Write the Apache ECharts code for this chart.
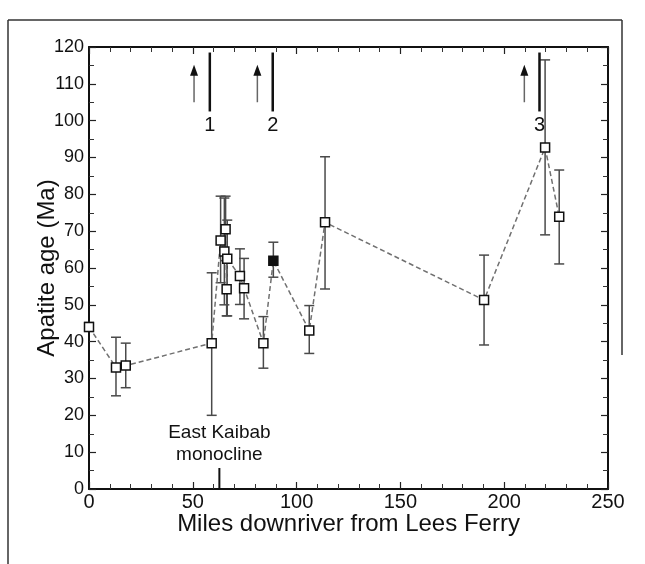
<!DOCTYPE html>
<html>
<head>
<meta charset="utf-8">
<script src="https://cdn.jsdelivr.net/npm/echarts@6/dist/echarts.min.js"></script>
<style>html,body{margin:0;padding:0;background:#fff;}#main{width:645px;height:564px;}</style>
</head>
<body>
<div id="main"></div>
<script>
// ---- data ----
var miles   = [0, 13.0, 17.7, 59.1, 63.4, 65.2, 65.8, 66.3, 66.6, 72.7, 74.7, 84.0, 88.8, 106.1, 113.7, 190.3, 219.7, 226.5];
var ages    = [44.0, 33.0, 33.5, 39.6, 67.5, 64.5, 70.5, 54.2, 62.5, 57.8, 54.5, 39.6, 62.0, 43.0, 72.4, 51.3, 92.7, 73.9];
var errLow  = [42.8, 25.3, 27.5, 20.0, 56.0, 50.0, 62.0, 47.0, 47.0, 50.1, 46.2, 32.8, 57.5, 36.8, 54.3, 39.1, 69.0, 61.1];
var errHigh = [45.2, 41.2, 39.6, 58.7, 79.5, 79.0, 79.5, 62.0, 73.0, 65.2, 62.6, 46.8, 67.0, 49.8, 90.2, 63.5, 116.5, 86.6];
var filledIndex = [12];

var markerMiles  = [58.2, 88.5, 217.0];
var markerLabels = ['1', '2', '3'];
var markerSpan   = [102.5, 118.5];
var arrowMiles   = [50.6, 81.1, 209.7];
var arrowSpan    = [105.0, 115.2];
var markerLabelAge = 98.8;

var ekMile = 62.8;
var ekSpan = [0, 5.7];
var ekText = ['East Kaibab', 'monocline'];
var ekTextAges = [15.2, 9.2];

var xTicks = [0, 250, 50];
var yTicks = [0, 120, 10];

// ---- build ----
var pts = miles.map(function (m, i) { return [m, ages[i]]; });
var errData = miles.map(function (m, i) { return [m, errLow[i], errHigh[i]]; });
var scatterData = miles.map(function (m, i) {
  var filled = filledIndex.indexOf(i) >= 0;
  return { value: [m, ages[i]], itemStyle: { color: filled ? '#111' : '#fff' } };
});
var annData = markerMiles.map(function (m, i) { return [m, arrowMiles[i], i]; });

var chart = echarts.init(document.getElementById('main'));
var font = 'Liberation Sans, Arial, Helvetica, sans-serif';

function axisBase() {
  return {
    type: 'value',
    axisLine: { show: true, onZero: false, lineStyle: { color: '#111', width: 2 } },
    splitLine: { show: false },
    axisTick: { show: true, inside: true, length: 7, lineStyle: { color: '#222', width: 1.2 } }
  };
}

chart.setOption({
  animation: false,
  grid: { left: 89, right: 37, top: 47, bottom: 75, containLabel: false },
  xAxis: [
    Object.assign(axisBase(), {
      min: xTicks[0], max: xTicks[1], interval: xTicks[2], position: 'bottom',
      minorTick: { show: true, splitNumber: 5, length: 5, lineStyle: { color: '#333', width: 1 } },
      axisLabel: { color: '#111', fontSize: 20, fontFamily: font, margin: 3 },
      name: 'Miles downriver from Lees Ferry', nameLocation: 'middle', nameGap: 23,
      nameMoveOverlap: false,
      nameTextStyle: { color: '#111', fontSize: 24, fontFamily: font }
    }),
    Object.assign(axisBase(), {
      min: xTicks[0], max: xTicks[1], interval: xTicks[2], position: 'top',
      minorTick: { show: true, splitNumber: 5, length: 5, lineStyle: { color: '#333', width: 1 } },
      axisLabel: { show: false }
    })
  ],
  yAxis: [
    Object.assign(axisBase(), {
      min: yTicks[0], max: yTicks[1], interval: yTicks[2], position: 'left',
      minorTick: { show: true, splitNumber: 2, length: 5, lineStyle: { color: '#333', width: 1 } },
      axisLabel: { color: '#111', fontSize: 18, fontFamily: font, margin: 5 },
      name: 'Apatite age (Ma)', nameLocation: 'middle', nameGap: 30, nameRotate: 90,
      nameMoveOverlap: false,
      nameTextStyle: { color: '#111', fontSize: 24, fontFamily: font }
    }),
    Object.assign(axisBase(), {
      min: yTicks[0], max: yTicks[1], interval: yTicks[2], position: 'right',
      minorTick: { show: true, splitNumber: 2, length: 5, lineStyle: { color: '#333', width: 1 } },
      axisLabel: { show: false }
    })
  ],
  graphic: [
    { type: 'line', shape: { x1: 8, y1: 20, x2: 622, y2: 20 }, style: { stroke: '#333', lineWidth: 1.5 }, silent: true },
    { type: 'line', shape: { x1: 8, y1: 20, x2: 8, y2: 564 }, style: { stroke: '#333', lineWidth: 1.5 }, silent: true },
    { type: 'line', shape: { x1: 622, y1: 20, x2: 622, y2: 355 }, style: { stroke: '#333', lineWidth: 1.5 }, silent: true }
  ],
  series: [
    {
      type: 'custom', name: 'err', data: errData, z: 2,
      renderItem: function (params, api) {
        var x = api.value(0), lo = api.value(1), hi = api.value(2);
        var pLo = api.coord([x, lo]), pHi = api.coord([x, hi]);
        var c = 5;
        var st = { stroke: '#4a4a4a', lineWidth: 1.5 };
        return { type: 'group', children: [
          { type: 'line', shape: { x1: pLo[0], y1: pLo[1], x2: pHi[0], y2: pHi[1] }, style: st },
          { type: 'line', shape: { x1: pLo[0] - c, y1: pLo[1], x2: pLo[0] + c, y2: pLo[1] }, style: st },
          { type: 'line', shape: { x1: pHi[0] - c, y1: pHi[1], x2: pHi[0] + c, y2: pHi[1] }, style: st }
        ]};
      }
    },
    {
      type: 'line', data: pts, symbol: 'none', z: 3,
      lineStyle: { color: '#707070', width: 1.5, type: [5, 3] }
    },
    {
      type: 'scatter', data: scatterData, symbol: 'rect', symbolSize: 9, z: 4,
      itemStyle: { borderColor: '#111', borderWidth: 1.5, opacity: 1 }
    },
    {
      type: 'custom', name: 'ann', data: annData, z: 5,
      renderItem: function (params, api) {
        var m = api.value(0), a = api.value(1), idx = api.value(2);
        var l1 = api.coord([m, markerSpan[0]]), l2 = api.coord([m, markerSpan[1]]);
        var a1 = api.coord([a, arrowSpan[0]]), a2 = api.coord([a, arrowSpan[1]]);
        var lp = api.coord([m, markerLabelAge]);
        var h = 11, w = 4;
        return { type: 'group', children: [
          { type: 'line', shape: { x1: l1[0], y1: l1[1], x2: l2[0], y2: l2[1] }, style: { stroke: '#111', lineWidth: 2.5 } },
          { type: 'line', shape: { x1: a1[0], y1: a1[1], x2: a2[0], y2: a2[1] + h - 2 }, style: { stroke: '#666', lineWidth: 1.5 } },
          { type: 'polygon', shape: { points: [[a2[0], a2[1]], [a2[0] - w, a2[1] + h], [a2[0] + w, a2[1] + h]] }, style: { fill: '#111' } },
          { type: 'text', x: lp[0], y: lp[1], style: { text: markerLabels[idx], fill: '#111', font: '20px ' + font, align: 'center', verticalAlign: 'middle' } }
        ]};
      }
    },
    {
      type: 'custom', name: 'ek', data: [[ekMile]], z: 5,
      renderItem: function (params, api) {
        var m = api.value(0);
        var b = api.coord([m, ekSpan[0]]), t = api.coord([m, ekSpan[1]]);
        var t1 = api.coord([m, ekTextAges[0]]), t2 = api.coord([m, ekTextAges[1]]);
        return { type: 'group', children: [
          { type: 'line', shape: { x1: b[0], y1: b[1], x2: t[0], y2: t[1] }, style: { stroke: '#111', lineWidth: 2 } },
          { type: 'text', x: t1[0], y: t1[1], style: { text: ekText[0], fill: '#111', font: '19px ' + font, align: 'center', verticalAlign: 'middle' } },
          { type: 'text', x: t2[0], y: t2[1], style: { text: ekText[1], fill: '#111', font: '19px ' + font, align: 'center', verticalAlign: 'middle' } }
        ]};
      }
    }
  ]
});
</script>
</body>
</html>
